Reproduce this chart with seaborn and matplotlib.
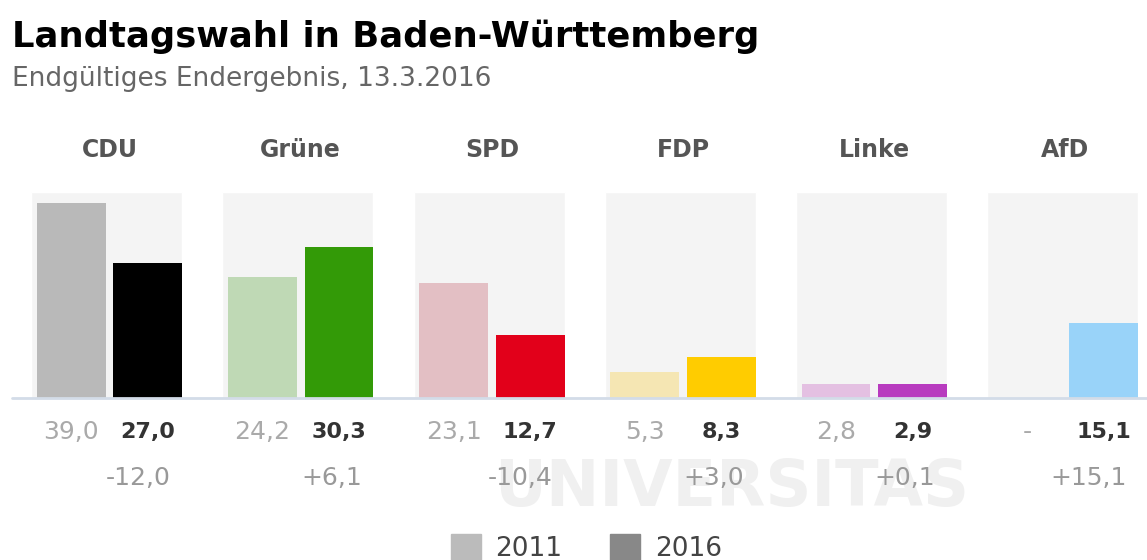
import pandas as pd
import seaborn as sns
import matplotlib.pyplot as plt
from matplotlib.patches import Patch
import numpy as np

# Daten
parteien = ['CDU', 'Grüne', 'SPD', 'FDP', 'Linke', 'AfD']
werte_2011 = [39.0, 24.2, 23.1, 5.3, 2.8, np.nan]
werte_2016 = [27.0, 30.3, 12.7, 8.3, 2.9, 15.1]
labels_2011 = ['39,0', '24,2', '23,1', '5,3', '2,8', '-']
labels_2016 = ['27,0', '30,3', '12,7', '8,3', '2,9', '15,1']
diff_labels = ['-12,0', '+6,1', '-10,4', '+3,0', '+0,1', '+15,1']
farben_2011 = ['#b9b9b9', '#bfd9b5', '#e3bfc4', '#f5e6b3', '#e4c0e2', '#c9e6fb']
farben_2016 = ['#000000', '#339a07', '#e2001a', '#ffcc00', '#b83bbf', '#99d3f9']
jahre = ['2011', '2016']

df = pd.DataFrame({
    'Partei': parteien * 2,
    'Jahr': ['2011'] * len(parteien) + ['2016'] * len(parteien),
    'Wert': werte_2011 + werte_2016,
})

sns.set_style('white')
plt.rcParams['font.family'] = ['DejaVu Sans']

W, H = 1147, 560
fig = plt.figure(figsize=(W / 100, H / 100), dpi=100)
ax = fig.add_axes([0, 0, 1, 1])

# Pixel-Skala: Gruppenmitte CDU bei 109.5 px, Abstand 191.2 px; Basis bei 398 px, 5 px je Prozent
px_per_x = 191.2
px_per_y = 5.0
x0_px = 109.5
base_px = 398

# Wasserzeichen
ax.text((732 - x0_px) / px_per_x, -(488 - base_px) / px_per_y, 'UNIVERSITAS',
        ha='center', va='center', fontsize=46, fontweight='bold',
        color='#f0f0f0', zorder=0)

# Hintergrundfelder
pos = np.arange(len(parteien))
ax.bar(pos - 0.015, 41.2, width=0.79, color='#f4f4f4', zorder=1)

# Balken
sns.barplot(data=df, x='Partei', y='Wert', hue='Jahr', order=parteien,
            hue_order=jahre, width=0.8, gap=0.1, ax=ax, legend=False,
            saturation=1, zorder=2)
ax.set_xlim(-x0_px / px_per_x, (W - x0_px) / px_per_x)
ax.set_ylim(-(H - base_px) / px_per_y, base_px / px_per_y)
ax.axis('off')

for ci, cont in enumerate(ax.containers[-2:]):
    farben = farben_2011 if ci == 0 else farben_2016
    for bar in cont:
        i = int(round(bar.get_x() + bar.get_width() / 2))
        bar.set_facecolor(farben[i])
        bar.set_edgecolor('none')
        bar.set_zorder(2)

ax.axhline(0, xmin=12 / W, xmax=1, color='#d3dce8', lw=2, zorder=3)

# Beschriftungen
for i, p in enumerate(parteien):
    ax.text(i, 49.6, p, ha='center', va='center', fontsize=17,
            fontweight='bold', color='#555555')
    ax.text(i - 0.2, -6.8, labels_2011[i], ha='center', va='center',
            fontsize=18, color='#aaaaaa', zorder=4)
    ax.text(i + 0.2, -6.8, labels_2016[i], ha='center', va='center',
            fontsize=16, fontweight='bold', color='#333333', zorder=4)
    ax.text(i + 0.32, -16, diff_labels[i], ha='right', va='center',
            fontsize=18, color='#999999', zorder=4)

fig.text(12 / W, 1 - 47 / H, 'Landtagswahl in Baden-Württemberg',
         fontsize=25.5, fontweight='bold', color='#000000', va='baseline')
fig.text(12 / W, 1 - 86 / H, 'Endgültiges Endergebnis, 13.3.2016',
         fontsize=19, color='#666666', va='baseline')

handles = [Patch(color='#bbbbbb'), Patch(color='#888888')]
leg = fig.legend(handles, jahre, loc='center', bbox_to_anchor=(0.511, (H - 548) / H),
                 ncol=2, frameon=False, fontsize=19, handlelength=1.15,
                 handleheight=1.15, columnspacing=1.8, handletextpad=0.55)
for t in leg.get_texts():
    t.set_color('#444444')

plt.savefig('out.png', dpi=100)
